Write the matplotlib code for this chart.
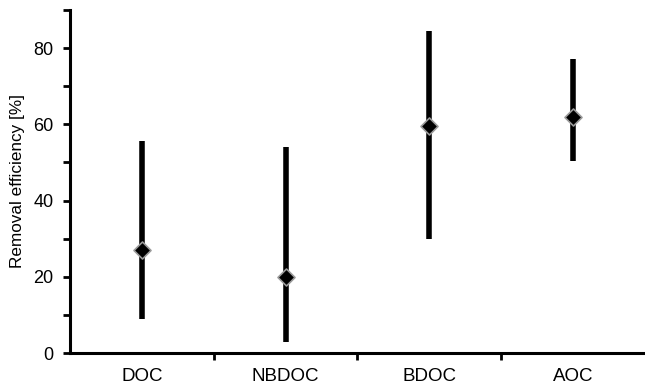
import numpy as np
import matplotlib.pyplot as plt
from matplotlib.ticker import MultipleLocator, FixedLocator

plt.rcParams['font.family'] = ['Liberation Sans', 'DejaVu Sans']

# Removal efficiency per parameter: mean with min/max range
categories = ['DOC', 'NBDOC', 'BDOC', 'AOC']
mean_vals = [27, 20, 59.5, 62]
min_vals = [9, 3, 30, 50.5]
max_vals = [55.5, 54, 84.5, 77]

fig = plt.figure(figsize=(6.45, 3.89), dpi=100)
ax = fig.add_axes([0.1085, 0.0925, 0.8915, 0.882])

x = np.arange(len(categories)) + 0.5
ax.vlines(x, min_vals, max_vals, color='black', linewidth=4, zorder=2)
ax.scatter(x, mean_vals, marker='D', s=75, color='black', edgecolor='#9a9a9a',
           linewidth=1.2, zorder=3)

ax.set_xlim(0, 4)
ax.set_ylim(0, 90)
ax.spines['top'].set_visible(False)
ax.spines['right'].set_visible(False)
for s in ('left', 'bottom'):
    ax.spines[s].set_linewidth(2.2)

ax.yaxis.set_major_locator(MultipleLocator(20))
ax.yaxis.set_minor_locator(MultipleLocator(10))
ax.tick_params(axis='y', which='major', length=5, width=2, labelsize=13, pad=7)
ax.tick_params(axis='y', which='minor', length=5, width=2)

ax.set_xticks(x)
ax.set_xticklabels(categories)
ax.xaxis.set_minor_locator(FixedLocator([1, 2, 3]))
ax.tick_params(axis='x', which='major', length=0, labelsize=13.5, pad=11)
ax.tick_params(axis='x', which='minor', length=5, width=2)

ax.set_ylabel('Removal efficiency [%]', fontsize=12.3, labelpad=6)

fig.savefig('out.png', dpi=100)
